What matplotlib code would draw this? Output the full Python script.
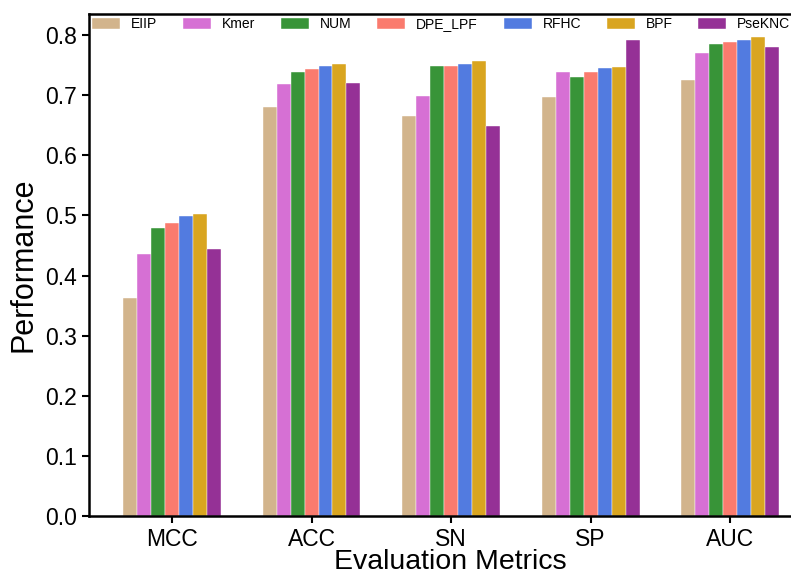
import numpy as np
from matplotlib import pyplot as plt

plt.rcParams['font.family'] = ['Liberation Sans', 'DejaVu Sans']

metrics = ['MCC', 'ACC', 'SN', 'SP', 'AUC']
methods = ['EIIP', 'Kmer', 'NUM', 'DPE_LPF', 'RFHC', 'BPF', 'PseKNC']
colors = ['#d2b48c', '#d670d4', '#389438', '#fa7b6e', '#527be0', '#d9a520', '#953196']

eiip = [0.362, 0.680, 0.666, 0.697, 0.725]
kmer = [0.436, 0.719, 0.699, 0.739, 0.770]
num = [0.479, 0.739, 0.748, 0.730, 0.785]
dpe_lpf = [0.487, 0.744, 0.749, 0.739, 0.788]
rfhc = [0.499, 0.749, 0.752, 0.746, 0.792]
bpf = [0.503, 0.752, 0.756, 0.747, 0.797]
pseknc = [0.444, 0.720, 0.649, 0.792, 0.780]

values = [eiip, kmer, num, dpe_lpf, rfhc, bpf, pseknc]

fig = plt.figure(figsize=(7.91, 5.77), dpi=100)
# axes runs past the right edge, the original picture was cropped
ax = fig.add_axes([89/791, 61/577, (812-89)/791, (516-14)/577])

x = np.arange(len(metrics))
width = 0.1
for i, (name, vals) in enumerate(zip(methods, values)):
    ax.bar(x + (i - 3) * width, vals, width, color=colors[i],
           edgecolor='white', linewidth=0.3, label=name)

ax.set_xlim(-0.594, 4.585)
ax.set_ylim(0, 0.835)
ax.set_xticks(x)
ax.set_xticklabels(metrics)
ax.set_yticks(np.arange(0, 0.81, 0.1))
ax.tick_params(labelsize=16.5, width=1.5, length=5)
for s in ax.spines.values():
    s.set_linewidth(1.8)

ax.set_xlabel('Evaluation Metrics', fontsize=20.5, labelpad=-1)
ax.set_ylabel('Performance', fontsize=22, labelpad=5)

ax.legend(ncol=7, loc='upper left', bbox_to_anchor=(0, 1), frameon=False,
          fontsize=10, borderaxespad=0, borderpad=0.25, handleheight=0.9,
          columnspacing=1.85)

plt.savefig('out.png', dpi=100)
